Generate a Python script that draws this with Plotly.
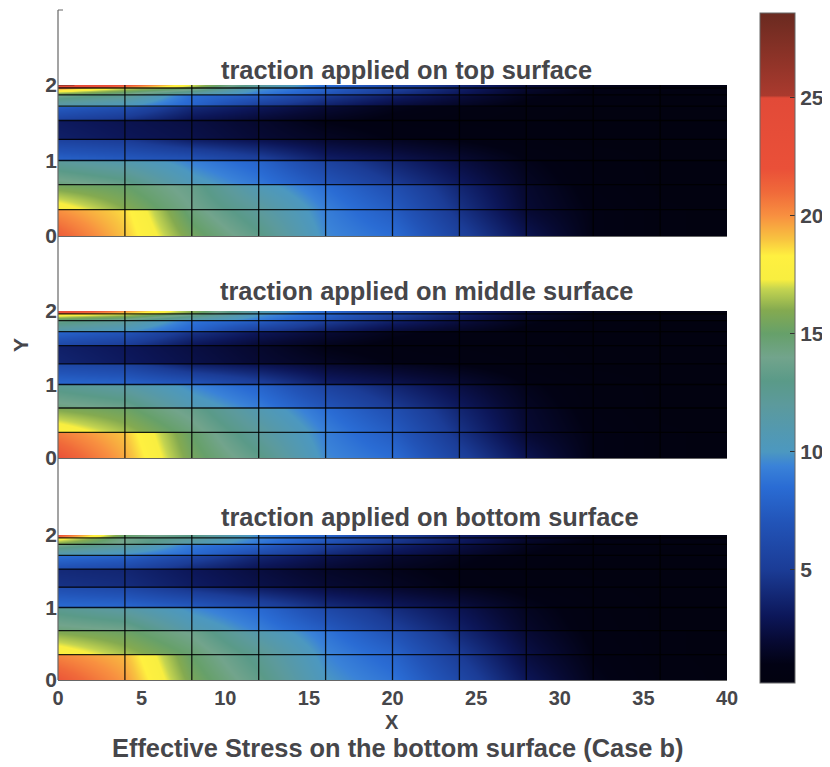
import plotly.graph_objects as go

OFF = 8  # the page body adds this much white space at the left and the top
W, H = 830 - OFF, 767 - OFF
x_nodes = [0, 4, 8, 12, 16, 20, 24, 28, 32, 36, 40]
y_edges = [0, 0.35, 0.68, 1.0, 1.28, 1.53, 1.72, 1.87, 1.96, 2.0]
# two value rows per mesh layer (layer bottom, layer top): stress jumps across layers
y_rows = [0, 0.345, 0.355, 0.675, 0.685, 0.995, 1.005, 1.275, 1.285, 1.525,
          1.535, 1.715, 1.725, 1.865, 1.875, 1.955, 1.965, 2.0]

z_top = [
    [21.5, 19, 15.5, 13.2, 9.6, 8.5, 5.5, 2.8, 1, 0.4, 0.3],
    [20, 18.6, 14.5, 12, 9.2, 7.5, 4.5, 2, 1, 0.4, 0.3],
    [18, 16, 14, 12, 9.3, 7.5, 4.5, 2, 0.9, 0.4, 0.3],
    [15.5, 15, 13.5, 10.5, 8.5, 6.5, 3.8, 1.8, 0.7, 0.3, 0.3],
    [14.5, 13.5, 10.5, 9, 7, 5, 3.2, 1.5, 0.6, 0.3, 0.3],
    [12, 11, 9.3, 8, 5.5, 3.8, 2.4, 1.2, 0.5, 0.3, 0.3],
    [8, 7.5, 7, 5.5, 3.5, 2.8, 2, 1, 0.5, 0.3, 0.3],
    [5.5, 5, 3.5, 2.8, 2, 1.5, 1, 0.6, 0.3, 0.3, 0.3],
    [3.5, 3, 2.6, 2, 1.5, 1, 0.8, 0.5, 0.3, 0.3, 0.3],
    [3.2, 2.8, 2.4, 1.8, 1, 0.7, 0.5, 0.4, 0.3, 0.3, 0.3],
    [5.5, 4.5, 2.8, 2, 1.3, 0.8, 0.6, 0.4, 0.3, 0.3, 0.3],
    [7.5, 6.5, 4, 3, 2, 1.2, 0.8, 0.5, 0.3, 0.3, 0.3],
    [11, 10, 8, 5, 3.5, 2.2, 1.5, 0.8, 0.4, 0.3, 0.3],
    [14, 12.5, 8.5, 7.5, 5, 3.5, 2.3, 1.2, 0.5, 0.3, 0.3],
    [15.5, 14, 11, 9, 7, 4.5, 3, 1.5, 0.8, 0.5, 0.4],
    [20, 17, 15, 10, 8, 5.5, 3.5, 1.8, 1, 0.6, 0.5],
    [22, 19, 16, 11, 8, 6, 4, 2, 1.2, 0.8, 0.6],
    [26, 22, 17, 12, 8.5, 6, 4, 2.2, 1.3, 0.9, 0.7],
]
z_middle = [
    [22, 19.5, 15.5, 13.2, 9.6, 8.5, 5.5, 2.8, 1, 0.4, 0.3],
    [20.5, 19, 15, 12, 9.2, 7.5, 4.5, 2, 1, 0.4, 0.3],
    [18.2, 16.5, 14.5, 12, 9.3, 7.5, 4.5, 2, 0.9, 0.4, 0.3],
    [15.8, 15.2, 13.5, 10.8, 8.5, 6.5, 3.8, 1.8, 0.7, 0.3, 0.3],
    [14.5, 13.8, 10.8, 9.2, 7, 5, 3.2, 1.5, 0.6, 0.3, 0.3],
    [12.5, 11.5, 9.5, 8, 5.5, 3.8, 2.4, 1.2, 0.5, 0.3, 0.3],
    [8.3, 8, 7.2, 5.5, 3.5, 2.8, 2, 1, 0.5, 0.3, 0.3],
    [6, 5.5, 3.5, 2.8, 2, 1.5, 1, 0.6, 0.3, 0.3, 0.3],
    [3.8, 3.2, 2.6, 2, 1.5, 1, 0.8, 0.5, 0.3, 0.3, 0.3],
    [3.5, 3, 2.4, 1.8, 1, 0.7, 0.5, 0.4, 0.3, 0.3, 0.3],
    [6, 5, 3, 2, 1.3, 0.8, 0.6, 0.4, 0.3, 0.3, 0.3],
    [8, 7, 4.5, 3, 2, 1.2, 0.8, 0.5, 0.3, 0.3, 0.3],
    [11, 10, 8, 5, 3.5, 2.2, 1.5, 0.8, 0.4, 0.3, 0.3],
    [13.5, 12, 8.8, 7.5, 5, 3.5, 2.3, 1.2, 0.5, 0.3, 0.3],
    [14.5, 13.5, 11, 9, 7, 4.5, 3, 1.5, 0.8, 0.5, 0.4],
    [18.5, 17, 14, 10, 8, 5.5, 3.5, 1.8, 1, 0.6, 0.5],
    [20, 18, 15.5, 10.5, 8, 6, 4, 2, 1.2, 0.8, 0.6],
    [24, 20, 16, 11, 8.5, 6, 4, 2.2, 1.3, 0.9, 0.7],
]
z_bottom = [
    [21.8, 19.8, 15.6, 13.3, 10, 8.8, 6, 3, 1.2, 0.5, 0.3],
    [20.3, 19.2, 15, 12.5, 9.5, 8, 5, 2.3, 1, 0.4, 0.3],
    [18.2, 16.5, 14.8, 12.5, 9.5, 8, 5, 2.5, 1, 0.4, 0.3],
    [15.8, 15.2, 13.8, 11, 8.8, 6.8, 4, 2, 0.8, 0.4, 0.3],
    [14.5, 14, 11, 9.3, 7.5, 5.3, 3.5, 1.7, 0.7, 0.3, 0.3],
    [12.5, 11.5, 9.6, 8.3, 6, 4.2, 2.8, 1.4, 0.6, 0.3, 0.3],
    [8.5, 8.3, 7.5, 6, 4.2, 3.2, 2.4, 1.3, 0.6, 0.3, 0.3],
    [6.5, 6, 4.5, 3.4, 2.5, 1.9, 1.3, 0.8, 0.4, 0.3, 0.3],
    [4.5, 4.2, 3.3, 2.6, 2, 1.5, 1, 0.6, 0.4, 0.3, 0.3],
    [4, 3.8, 3, 2.3, 1.6, 1.2, 0.8, 0.5, 0.3, 0.3, 0.3],
    [6.5, 5.8, 4, 2.8, 2, 1.4, 1, 0.6, 0.3, 0.3, 0.3],
    [8.5, 7.8, 5.8, 3.8, 2.6, 1.8, 1.2, 0.7, 0.4, 0.3, 0.3],
    [10.5, 9.5, 8.3, 6, 4, 2.8, 1.9, 1, 0.5, 0.3, 0.3],
    [14, 12, 9, 7.8, 5.2, 3.6, 2.4, 1.3, 0.6, 0.4, 0.3],
    [15.5, 13.8, 11, 8.8, 6.5, 4.5, 3, 1.5, 0.8, 0.5, 0.4],
    [18, 14, 12, 9.3, 7.5, 5, 3.3, 1.8, 1, 0.6, 0.4],
    [20, 14.5, 12.5, 9.5, 7.8, 5.3, 3.5, 2, 1.1, 0.7, 0.5],
    [22, 15, 13, 9.5, 8, 5.5, 3.5, 2.2, 1.2, 0.8, 0.5],
]
panel_titles = ["traction applied on top surface",
                "traction applied on middle surface",
                "traction applied on bottom surface"]
x_ticks = [0, 5, 10, 15, 20, 25, 30, 35, 40]
y_ticks = [0, 1, 2]
cbar_ticks = [5, 10, 15, 20, 25]

zmin, zmax = 0.2, 28.6
stops = [
    (0.2, "#14142a"), (0.27, "#020210"), (1.0, "#020214"), (2, "#070a34"), (3, "#0c1658"),
    (5, "#1b3c96"), (7, "#2254b8"),
    (8.5, "#2a6cd4"), (9.4, "#3a82d8"), (10, "#4c98c0"), (12, "#5c9a9c"), (13, "#5a9a88"),
    (14, "#72a48c"), (15, "#66a06a"), (16, "#84aa50"), (16.9, "#c4d450"), (17.3, "#f8ee40"),
    (18.3, "#fff040"), (19, "#f8c440"), (20, "#f89040"), (21, "#f06a3a"), (22, "#ea5038"),
    (25, "#e24a38"), (25.1, "#aa3a2e"), (28.6, "#6a2a20"),
]
colorscale = [[(v - zmin) / (zmax - zmin), c] for v, c in stops]


def fx(px):
    return (px - OFF) / W


def fy(py):
    return 1 - (py - OFF) / H


# pixel geometry: (y of value 0, y of value 2) for the three panels, top to bottom
panels = [(236, 85), (458, 311), (680, 535)]
PX0, PX1 = 58, 727
INK = "#46464a"
FONT = "Liberation Sans"

fig = go.Figure()
for i, (z, (p0, p2)) in enumerate(zip([z_top, z_middle, z_bottom], panels)):
    suffix = str(i + 1) if i else ""
    xa, ya = "x" + suffix, "y" + suffix
    fig.add_trace(go.Heatmap(
        x=x_nodes, y=y_rows, z=z, xaxis=xa, yaxis=ya, zsmooth="best",
        colorscale=colorscale, zmin=zmin, zmax=zmax, showscale=(i == 0),
        hoverinfo="skip",
        colorbar=dict(
            x=fx(760), xanchor="left", y=fy(13), yanchor="top",
            len=670 / H, lenmode="fraction", thickness=35, thicknessmode="pixels",
            tickvals=cbar_ticks, ticks="inside", ticklen=5, tickcolor="#333",
            tickfont=dict(family=FONT, size=21, color=INK, weight="bold"),
            outlinecolor="#666", outlinewidth=1, xpad=0, ypad=0,
        ),
    ))
    lx, ly = [], []
    for v in x_nodes[1:-1]:
        lx += [v, v, None]
        ly += [y_edges[0], y_edges[-1], None]
    for v in y_edges[1:-1]:
        lx += [x_nodes[0], x_nodes[-1], None]
        ly += [v, v, None]
    fig.add_trace(go.Scatter(x=lx, y=ly, mode="lines", xaxis=xa, yaxis=ya,
                             line=dict(color="rgba(0,0,0,0.85)", width=1.3),
                             hoverinfo="skip", showlegend=False))
    axis_x = dict(domain=[fx(PX0), fx(PX1)], range=[0, 40], showgrid=False, zeroline=False,
                  showline=True, linecolor="#666", linewidth=1,
                  tickvals=x_ticks if i == 2 else [], ticks="",
                  tickfont=dict(family=FONT, size=20, color=INK, weight="bold"))
    axis_y = dict(domain=[fy(p0), fy(p2)], range=[0, 2], showgrid=False, zeroline=False,
                  showline=False, tickvals=y_ticks, ticks="",
                  tickfont=dict(family=FONT, size=21, color=INK, weight="bold"))
    if i:
        axis_x["anchor"] = "y" + suffix
        axis_y["anchor"] = "x" + suffix
    fig.update_layout({"xaxis" + suffix: axis_x, "yaxis" + suffix: axis_y})

annotations = []
for t, cx, cy in zip(panel_titles, [406, 426, 430], [70, 291, 517]):
    annotations.append(dict(text=t, x=fx(cx), y=fy(cy), fs=25.4))
annotations.append(dict(text="X", x=fx(392), y=fy(722), fs=20))
annotations.append(dict(text="Y", x=fx(21), y=fy(345), textangle=-90, fs=21))
annotations.append(dict(text="Effective Stress on the bottom surface (Case b)",
                        x=fx(397), y=fy(748), fs=25.4))
for a in annotations:
    fs = a.pop("fs")
    a.update(xref="paper", yref="paper", xanchor="center", yanchor="middle", showarrow=False,
             font=dict(family=FONT, size=fs, color=INK, weight="bold"))

fig.update_layout(
    width=W, height=H, margin=dict(l=0, r=0, t=0, b=0, autoexpand=False), autosize=False,
    paper_bgcolor="white", plot_bgcolor="white", showlegend=False, annotations=annotations,
    shapes=[
        dict(type="line", xref="paper", yref="paper", x0=fx(PX0), x1=fx(PX0),
             y0=fy(10), y1=fy(680), line=dict(color="#666", width=1.2)),
        dict(type="line", xref="paper", yref="paper", x0=fx(PX0), x1=fx(PX0 + 5),
             y0=fy(10), y1=fy(10), line=dict(color="#666", width=1)),
    ],
)
fig.write_html("out.html", config=dict(displayModeBar=False))
